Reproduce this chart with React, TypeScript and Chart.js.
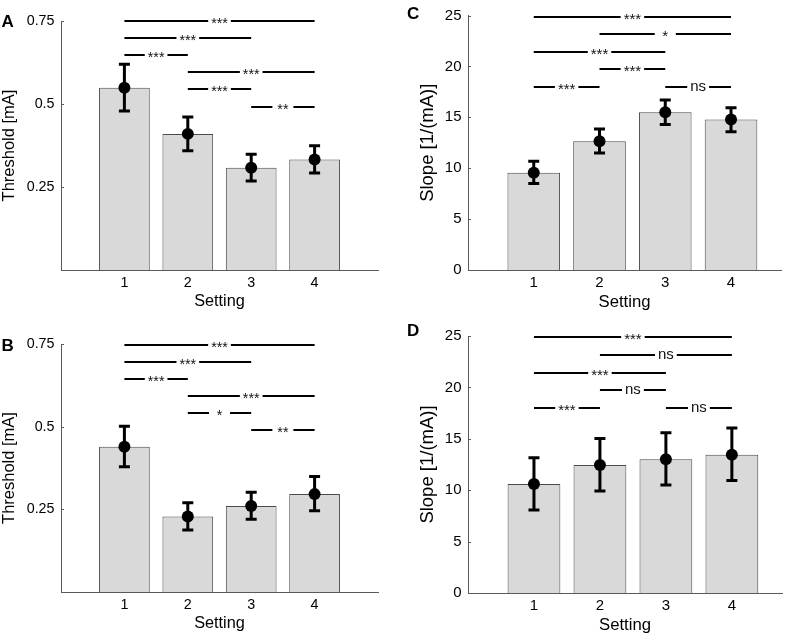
import React, { useEffect, useRef } from "react";
import { Chart, registerables } from "chart.js";

Chart.register(...registerables);

const FONT = "'Liberation Sans', Arial, Helvetica, sans-serif";

// ---- data ----
const settings = [1, 2, 3, 4];

const thresholdA = [0.549, 0.41, 0.308, 0.333];
const thresholdAHigh = [0.62, 0.461, 0.349, 0.374];
const thresholdALow = [0.479, 0.359, 0.268, 0.292];

const thresholdB = [0.439, 0.228, 0.26, 0.296];
const thresholdBHigh = [0.501, 0.27, 0.302, 0.349];
const thresholdBLow = [0.379, 0.1875, 0.22, 0.246];

const slopeC = [9.55, 12.65, 15.5, 14.78];
const slopeCHigh = [10.68, 13.84, 16.7, 15.95];
const slopeCLow = [8.5, 11.5, 14.3, 13.58];

const slopeD = [10.6, 12.45, 13.0, 13.44];
const slopeDHigh = [13.15, 15.03, 15.6, 16.04];
const slopeDLow = [8.08, 9.93, 10.5, 10.94];

const thresholdTicks = [0.25, 0.5, 0.75];
const slopeTicks = [0, 5, 10, 15, 20, 25];

const sigPairsThreshold = [[1, 4], [1, 3], [1, 2], [2, 4], [2, 3], [3, 4]];
const sigLevelsA = [0.75, 0.699, 0.649, 0.596, 0.544, 0.492];
const sigLabelsA = ["***", "***", "***", "***", "***", "**"];
const sigLevelsB = [0.747, 0.696, 0.644, 0.592, 0.541, 0.489];
const sigLabelsB = ["***", "***", "***", "***", "*", "**"];

const sigPairsSlope = [[1, 4], [2, 4], [1, 3], [2, 3], [1, 2], [3, 4]];
const sigLevelsC = [24.88, 23.16, 21.4, 19.7, 17.96, 17.96];
const sigLabelsC = ["***", "*", "***", "***", "***", "ns"];
const sigLevelsD = [24.87, 23.14, 21.39, 19.7, 17.98, 17.98];
const sigLabelsD = ["***", "ns", "***", "ns", "***", "ns"];

// ---- panel definitions ----
type Geo = {
  left: number; top: number; w: number; h: number;
  areaL: number; areaT: number; areaR: number; areaB: number;
  titleCx: number; letterX: number; letterY: number;
  tickSize: number; yTitleSize: number; xTitleSize: number; sigSize: number;
};

type PanelDef = {
  letter: string; yTitle: string; yMax: number; xMax: number; yTicks: number[];
  means: number[]; high: number[]; low: number[];
  sigPairs: number[][]; sigLevels: number[]; sigLabels: string[];
  geo: Geo;
};

const panels: PanelDef[] = [
  {
    letter: "A", yTitle: "Threshold [mA]", yMax: 0.75, xMax: 5, yTicks: thresholdTicks,
    means: thresholdA, high: thresholdAHigh, low: thresholdALow,
    sigPairs: sigPairsThreshold, sigLevels: sigLevelsA, sigLabels: sigLabelsA,
    geo: { left: 0, top: 0, w: 399, h: 318, areaL: 61, areaT: 21, areaR: 378, areaB: 270, titleCx: 9.3, letterX: 1.5, letterY: 26.5,
      tickSize: 14.3, yTitleSize: 16.5, xTitleSize: 16.3, sigSize: 14.3 },
  },
  {
    letter: "B", yTitle: "Threshold [mA]", yMax: 0.75, xMax: 5, yTicks: thresholdTicks,
    means: thresholdB, high: thresholdBHigh, low: thresholdBLow,
    sigPairs: sigPairsThreshold, sigLevels: sigLevelsB, sigLabels: sigLabelsB,
    geo: { left: 0, top: 318, w: 399, h: 319, areaL: 61, areaT: 26, areaR: 378, areaB: 274, titleCx: 9.3, letterX: 1.5, letterY: 32.7,
      tickSize: 14.3, yTitleSize: 16.5, xTitleSize: 16.3, sigSize: 14.3 },
  },
  {
    letter: "C", yTitle: "Slope [1/(mA)]", yMax: 25, xMax: 4.76, yTicks: slopeTicks,
    means: slopeC, high: slopeCHigh, low: slopeCLow,
    sigPairs: sigPairsSlope, sigLevels: sigLevelsC, sigLabels: sigLabelsC,
    geo: { left: 400, top: 0, w: 398, h: 318, areaL: 68, areaT: 14, areaR: 381, areaB: 270, titleCx: 28.3, letterX: 7, letterY: 19,
      tickSize: 15, yTitleSize: 18.5, xTitleSize: 16.7, sigSize: 15 },
  },
  {
    letter: "D", yTitle: "Slope [1/(mA)]", yMax: 25, xMax: 4.76, yTicks: slopeTicks,
    means: slopeD, high: slopeDHigh, low: slopeDLow,
    sigPairs: sigPairsSlope, sigLevels: sigLevelsD, sigLabels: sigLabelsD,
    geo: { left: 400, top: 318, w: 398, h: 319, areaL: 68, areaT: 18, areaR: 382, areaB: 275, titleCx: 28.3, letterX: 7, letterY: 18.3,
      tickSize: 15, yTitleSize: 18.5, xTitleSize: 16.7, sigSize: 15 },
  },
];

const AXIS = "#5a5a5a";

function Panel({ def }: { def: PanelDef }) {
  const ref = useRef<HTMLCanvasElement | null>(null);

  useEffect(() => {
    const g = def.geo;
    const xTitleHalf = (g.xTitleSize * 1.2) / 2;
    const yTitleHalf = (g.yTitleSize * 1.2) / 2;
    const padB = g.h - (g.areaB + 32) - xTitleHalf;
    const xHeight = g.h - padB - g.areaB;
    const padL = g.titleCx - yTitleHalf;
    const yWidth = g.areaL - padL;
    const tickPadX = 13 - (g.tickSize * 1.2) / 2;

    const overlay = {
      id: "overlay",
      afterDatasetsDraw(chart: any) {
        const { ctx, scales } = chart;
        const x = scales.x;
        const y = scales.y;
        ctx.save();
        ctx.strokeStyle = "#000";
        ctx.lineWidth = 3;
        ctx.lineCap = "butt";
        settings.forEach((s, i) => {
          const xp = x.getPixelForValue(s);
          const yh = y.getPixelForValue(def.high[i]);
          const yl = y.getPixelForValue(def.low[i]);
          ctx.beginPath();
          ctx.moveTo(xp, yh);
          ctx.lineTo(xp, yl);
          ctx.moveTo(xp - 5.5, yh);
          ctx.lineTo(xp + 5.5, yh);
          ctx.moveTo(xp - 5.5, yl);
          ctx.lineTo(xp + 5.5, yl);
          ctx.stroke();
        });
        ctx.restore();
      },
      afterDraw(chart: any) {
        const { ctx, scales, chartArea } = chart;
        const x = scales.x;
        const y = scales.y;
        ctx.save();
        // inward y ticks
        ctx.strokeStyle = AXIS;
        ctx.lineWidth = 1;
        y.ticks.forEach((t: any) => {
          const py = Math.round(y.getPixelForValue(t.value)) + 0.5;
          ctx.beginPath();
          ctx.moveTo(chartArea.left, py);
          ctx.lineTo(chartArea.left + 3, py);
          ctx.stroke();
        });
        // significance bars
        ctx.strokeStyle = "#000";
        ctx.fillStyle = "#111";
        ctx.lineWidth = 2;
        ctx.font = `${g.sigSize}px ${FONT}`;
        ctx.textAlign = "center";
        ctx.textBaseline = "alphabetic";
        def.sigPairs.forEach((pair, i) => {
          const x1 = x.getPixelForValue(pair[0]);
          const x2 = x.getPixelForValue(pair[1]);
          const yy = Math.round(y.getPixelForValue(def.sigLevels[i]));
          const label = def.sigLabels[i];
          const m = ctx.measureText(label);
          const gap = Math.max(21, m.width + 6);
          const mid = (x1 + x2) / 2;
          ctx.beginPath();
          ctx.moveTo(x1, yy);
          ctx.lineTo(mid - gap / 2, yy);
          ctx.moveTo(mid + gap / 2, yy);
          ctx.lineTo(x2, yy);
          ctx.stroke();
          const asc = m.actualBoundingBoxAscent;
          const desc = m.actualBoundingBoxDescent;
          ctx.fillText(label, mid, yy + (asc - desc) / 2);
        });
        // panel letter
        ctx.fillStyle = "#000";
        ctx.font = `bold 17px ${FONT}`;
        ctx.textAlign = "left";
        ctx.fillText(def.letter, g.letterX, g.letterY);
        ctx.restore();
      },
    };

    const points = settings.map((s, i) => ({ x: s, y: def.means[i] }));

    const chart = new Chart(ref.current as HTMLCanvasElement, {
      type: "bar",
      data: {
        datasets: [
          {
            type: "scatter",
            data: points,
            pointRadius: 6,
            pointBackgroundColor: "#000",
            pointBorderWidth: 0,
            order: 0,
          } as any,
          {
            type: "bar",
            data: points,
            backgroundColor: "#d9d9d9",
            borderColor: "#4a4a4a",
            borderWidth: 1,
            barPercentage: 0.8,
            categoryPercentage: 1,
            order: 2,
          } as any,
        ],
      },
      options: {
        responsive: false,
        maintainAspectRatio: false,
        animation: false,
        devicePixelRatio: 1,
        events: [],
        layout: { padding: { left: padL, top: g.areaT, right: g.w - g.areaR, bottom: padB } },
        plugins: { legend: { display: false }, tooltip: { enabled: false } },
        scales: {
          x: {
            type: "linear",
            offset: false,
            min: 0,
            max: def.xMax,
            afterBuildTicks: (s: any) => {
              s.ticks = settings.map((v) => ({ value: v }));
            },
            afterFit: (s: any) => {
              s.height = xHeight;
            },
            grid: { display: false, drawTicks: false, tickLength: 0 },
            border: { display: true, color: AXIS, width: 1 },
            ticks: {
              font: { family: FONT, size: g.tickSize },
              color: "#000",
              padding: tickPadX,
              maxRotation: 0,
              autoSkip: false,
              callback: (v: any) => String(v),
            },
            title: {
              display: true,
              text: "Setting",
              font: { family: FONT, size: g.xTitleSize },
              color: "#000",
              padding: 0,
            },
          },
          y: {
            type: "linear",
            offset: false,
            min: 0,
            max: def.yMax,
            afterBuildTicks: (s: any) => {
              s.ticks = def.yTicks.map((v) => ({ value: v }));
            },
            afterFit: (s: any) => {
              s.width = yWidth;
            },
            grid: { display: false, drawTicks: false, tickLength: 0 },
            border: { display: true, color: AXIS, width: 1 },
            ticks: {
              font: { family: FONT, size: g.tickSize },
              color: "#000",
              padding: 6.5,
              autoSkip: false,
              callback: (v: any) => String(v),
            },
            title: {
              display: true,
              text: def.yTitle,
              font: { family: FONT, size: g.yTitleSize },
              color: "#000",
              padding: 0,
            },
          },
        },
      } as any,
      plugins: [overlay],
    });
    return () => chart.destroy();
  }, [def]);

  const g = def.geo;
  return (
    <canvas
      ref={ref}
      width={g.w}
      height={g.h}
      style={{ position: "absolute", left: g.left, top: g.top, width: g.w, height: g.h }}
    />
  );
}

export default function App() {
  return (
    <div style={{ position: "absolute", left: 0, top: 0, width: 798, height: 637, background: "#fff" }}>
      {panels.map((p) => (
        <Panel key={p.letter} def={p} />
      ))}
    </div>
  );
}
